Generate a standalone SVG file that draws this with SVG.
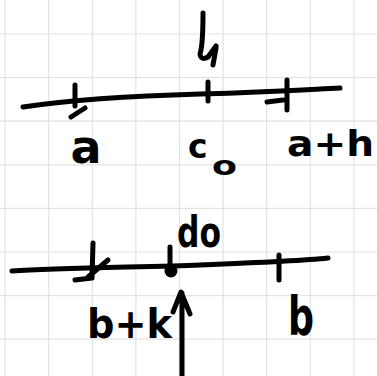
<svg xmlns="http://www.w3.org/2000/svg" width="377" height="376" viewBox="0 0 377 376">
<defs>
<style>
.grid line{stroke:#e2e2e2;stroke-width:1.2}
.ink{fill:none;stroke:#000;stroke-width:5;stroke-linecap:round;stroke-linejoin:round}
.lbl{font-family:"DejaVu Sans","Liberation Sans",sans-serif;font-weight:bold;fill:#000}
</style>
</defs>
<rect width="377" height="376" fill="#fff"/>
<g id="grid" class="grid">
<line x1="5.1" y1="0" x2="5.1" y2="376"/>
<line x1="48.7" y1="0" x2="48.7" y2="376"/>
<line x1="92.3" y1="0" x2="92.3" y2="376"/>
<line x1="135.9" y1="0" x2="135.9" y2="376"/>
<line x1="179.5" y1="0" x2="179.5" y2="376"/>
<line x1="223.1" y1="0" x2="223.1" y2="376"/>
<line x1="266.7" y1="0" x2="266.7" y2="376"/>
<line x1="310.3" y1="0" x2="310.3" y2="376"/>
<line x1="353.9" y1="0" x2="353.9" y2="376"/>
<line x1="0" y1="34" x2="377" y2="34"/>
<line x1="0" y1="77.6" x2="377" y2="77.6"/>
<line x1="0" y1="121.2" x2="377" y2="121.2"/>
<line x1="0" y1="164.8" x2="377" y2="164.8"/>
<line x1="0" y1="208.4" x2="377" y2="208.4"/>
<line x1="0" y1="252" x2="377" y2="252"/>
<line x1="0" y1="295.6" x2="377" y2="295.6"/>
<line x1="0" y1="339.2" x2="377" y2="339.2"/>
</g>
<g id="line-top">
<path class="ink" d="M23,107 C70,100 130,96 200,94 S300,90 340,88"/>
<path class="ink" d="M75,85 L75,106 M71,117 L85,108" stroke-width="5.5"/>
<path class="ink" d="M208,82 L208,101" stroke-width="6.5"/>
<path class="ink" d="M287,80 L287,110 M267,102 L283,100" stroke-width="5.5"/>
</g>
<g id="line-bottom">
<path class="ink" d="M12,271 C60,268 150,267 200,265 S300,261 328,258"/>
<path class="ink" d="M93,243 L92,278 M108,260 L88,277 M75,280 L92,278" stroke-width="5.5"/>
<path class="ink" d="M170,247 L170,272" stroke-width="5.5"/>
<circle cx="171" cy="271" r="6.5" fill="#000"/>
<path class="ink" d="M279,255 L279,280" stroke-width="5.5"/>
</g>
<g id="connectors">
<path class="ink" d="M203,13 C203,30 203,45 200,54 Q201,61 208,57 L216,46 M216,48 L213,65" stroke-width="5.5"/>
<path class="ink" d="M182,376 L182,293 M173,312 L181,292 L190,314" stroke-width="5.5"/>
</g>
<g id="label-a"><text class="lbl" x="86" y="163" font-size="46" text-anchor="middle">a</text></g>
<g id="label-c0"><text class="lbl" x="188" y="158" font-size="33">c<tspan x="212" y="175" font-size="27" textLength="25" lengthAdjust="spacingAndGlyphs">o</tspan></text></g>
<g id="label-a-plus-h"><text class="lbl" x="287" y="156" font-size="36" textLength="87" lengthAdjust="spacingAndGlyphs">a+h</text></g>
<g id="label-d0"><text class="lbl" x="177" y="247" font-size="42" textLength="44" lengthAdjust="spacingAndGlyphs">do</text></g>
<g id="label-b-plus-k"><text class="lbl" x="87" y="338" font-size="40" textLength="85" lengthAdjust="spacingAndGlyphs">b+k</text></g>
<g id="label-b"><text class="lbl" x="288" y="335" font-size="54" textLength="26" lengthAdjust="spacingAndGlyphs">b</text></g>
</svg>
